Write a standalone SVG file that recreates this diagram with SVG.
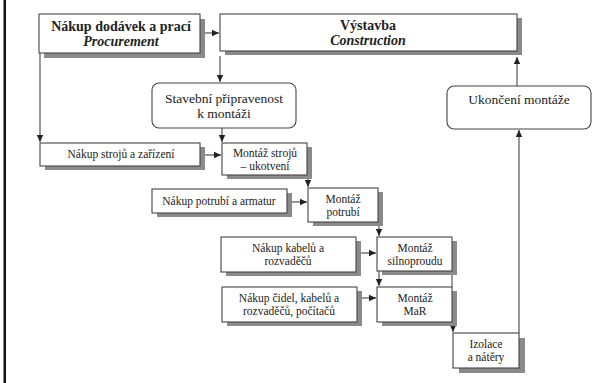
<svg xmlns="http://www.w3.org/2000/svg" width="608" height="383" viewBox="0 0 608 383">
<defs>
<marker id="ah" markerUnits="userSpaceOnUse" markerWidth="8" markerHeight="8" refX="7" refY="4" orient="auto">
<path d="M0,0.8 L7,4 L0,7.2 z" fill="#222"/>
</marker>
</defs>
<style>
.box{fill:#fff;stroke:#444;stroke-width:1.1}
.sh{fill:#8a8a8a}
text{fill:#222;text-anchor:middle}
.b{font-weight:bold;font-size:14px}
.bi{font-weight:bold;font-style:italic;font-size:14px}
.m{font-size:13.5px}
.s{font-size:11.5px}
.c{stroke:#444;stroke-width:1.1;fill:none}
</style>
<rect width="608" height="383" fill="#fff"/>
<rect x="3.5" y="0" width="2.5" height="383" fill="#111"/>

<g id="connectors">
<line class="c" x1="200" y1="33" x2="219" y2="33" marker-end="url(#ah)"/>
<line class="c" x1="220" y1="56" x2="220" y2="82" marker-end="url(#ah)"/>
<line class="c" x1="40" y1="53" x2="40" y2="142" marker-end="url(#ah)"/>
<line class="c" x1="222" y1="128" x2="222" y2="142" marker-end="url(#ah)"/>
<line class="c" x1="205" y1="155" x2="221" y2="155" marker-end="url(#ah)"/>
<line class="c" x1="308" y1="175" x2="308" y2="187" marker-end="url(#ah)"/>
<line class="c" x1="292" y1="202" x2="307" y2="202" marker-end="url(#ah)"/>
<line class="c" x1="379" y1="222" x2="379" y2="236" marker-end="url(#ah)"/>
<line class="c" x1="361" y1="253" x2="376" y2="253" marker-end="url(#ah)"/>
<line class="c" x1="379" y1="271" x2="379" y2="286" marker-end="url(#ah)"/>
<line class="c" x1="452" y1="271" x2="452" y2="287"/>
<line class="c" x1="362" y1="298" x2="376" y2="298" marker-end="url(#ah)"/>
<line class="c" x1="453" y1="322" x2="453" y2="332" marker-end="url(#ah)"/>
<line class="c" x1="519" y1="333" x2="519" y2="130" marker-end="url(#ah)"/>
<line class="c" x1="517" y1="86" x2="517" y2="57" marker-end="url(#ah)"/>
</g>

<g font-family="Liberation Serif, Times New Roman, serif">
<g id="procurement">
<rect class="sh" x="44" y="19" width="161" height="39"/>
<rect class="box" x="39" y="14" width="161" height="39"/>
<text class="b" x="121" y="31">Nákup dodávek a prací</text>
<text class="bi" x="121" y="46">Procurement</text>
</g>

<g id="construction">
<rect class="sh" x="225" y="18" width="297" height="37"/>
<rect class="box" x="220" y="14" width="297" height="37"/>
<text class="b" x="368" y="30">Výstavba</text>
<text class="bi" x="368" y="45">Construction</text>
</g>

<g id="stavebni">
<rect class="box" x="152" y="83" width="144" height="45" rx="7"/>
<text class="m" x="224" y="103">Stavební připravenost</text>
<text class="m" x="224" y="118">k montáži</text>
</g>

<g id="ukonceni">
<rect class="box" x="447" y="86" width="144" height="43" rx="7"/>
<text class="m" x="519" y="104">Ukončení montáže</text>
</g>

<g id="nakup-stroju">
<rect class="sh" x="45" y="147" width="160" height="23"/>
<rect class="box" x="40" y="143" width="160" height="23"/>
<text class="s" x="121" y="158">Nákup strojů a zařízení</text>
</g>

<g id="montaz-stroju">
<rect class="sh" x="227" y="147" width="85" height="32"/>
<rect class="box" x="222" y="143" width="85" height="32"/>
<text class="s" x="265" y="156.5">Montáž strojů</text>
<text class="s" x="265" y="169.5">– ukotvení</text>
</g>

<g id="nakup-potrubi">
<rect class="sh" x="157" y="193" width="135" height="24"/>
<rect class="box" x="152" y="189" width="135" height="24"/>
<text class="s" x="219" y="205">Nákup potrubí a armatur</text>
</g>

<g id="montaz-potrubi">
<rect class="sh" x="313" y="192" width="70" height="34"/>
<rect class="box" x="308" y="188" width="70" height="34"/>
<text class="s" x="343" y="202.5">Montáž</text>
<text class="s" x="343" y="215.5">potrubí</text>
</g>

<g id="nakup-kabelu">
<rect class="sh" x="226" y="241" width="135" height="35"/>
<rect class="box" x="221" y="237" width="135" height="35"/>
<text class="s" x="288" y="251.5">Nákup kabelů a</text>
<text class="s" x="288" y="264.5">rozvaděčů</text>
</g>

<g id="montaz-silnoproudu">
<rect class="sh" x="382" y="241" width="75" height="34"/>
<rect class="box" x="377" y="237" width="75" height="34"/>
<text class="s" x="415" y="251.5">Montáž</text>
<text class="s" x="415" y="264.5">silnoproudu</text>
</g>

<g id="nakup-cidel">
<rect class="sh" x="227" y="291" width="135" height="35"/>
<rect class="box" x="222" y="287" width="135" height="35"/>
<text class="s" x="289" y="301.5">Nákup čidel, kabelů a</text>
<text class="s" x="289" y="314.5">rozvaděčů, počítačů</text>
</g>

<g id="montaz-mar">
<rect class="sh" x="382" y="291" width="75" height="35"/>
<rect class="box" x="377" y="287" width="75" height="35"/>
<text class="s" x="415" y="302">Montáž</text>
<text class="s" x="415" y="315">MaR</text>
</g>

<g id="izolace">
<rect class="sh" x="459" y="338" width="66" height="35"/>
<rect class="box" x="453" y="333" width="66" height="35"/>
<text class="s" x="486" y="347.5">Izolace</text>
<text class="s" x="486" y="360.5">a nátěry</text>
</g>
</g>
</svg>
